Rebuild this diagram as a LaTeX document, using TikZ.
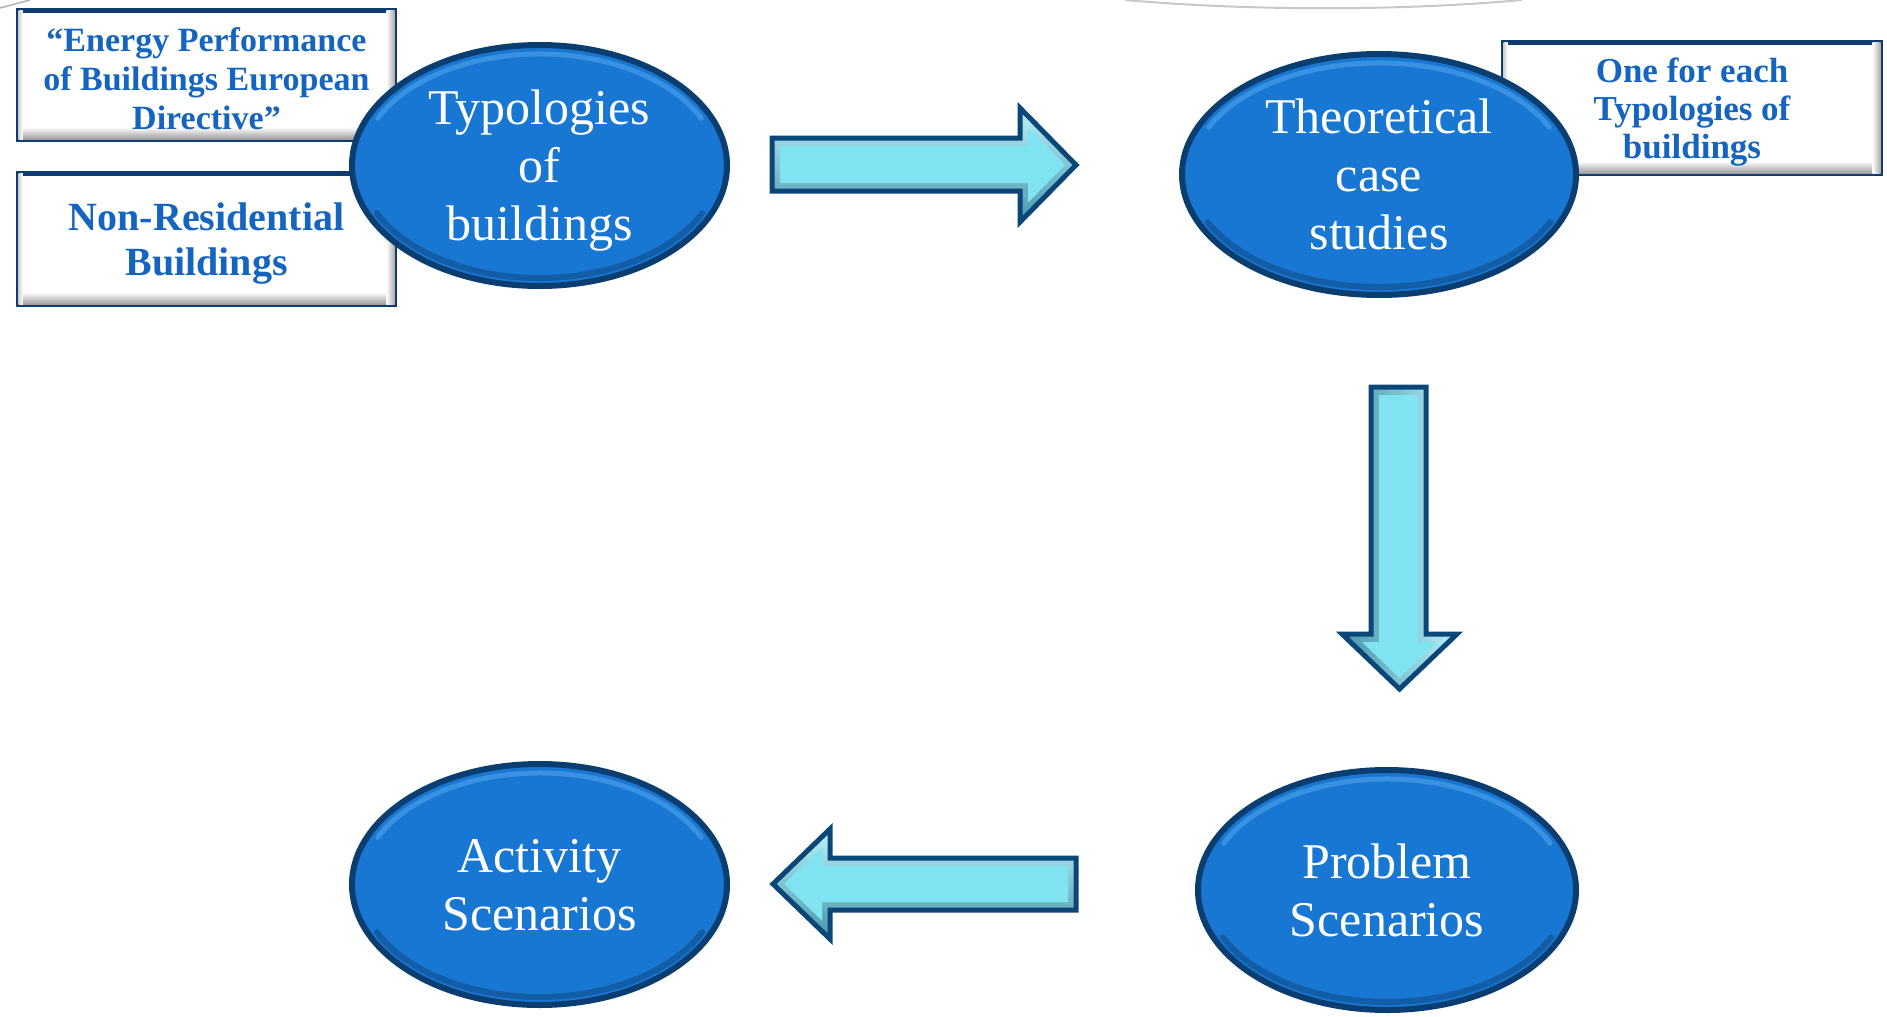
\documentclass[tikz,border=0pt]{standalone}
\usepackage{fontspec}
\setmainfont{Liberation Serif}
\usetikzlibrary{shapes.geometric}

\definecolor{rim}{HTML}{0B3E70}
\definecolor{disc}{HTML}{1877D3}
\definecolor{discHi}{HTML}{55A8F0}
\definecolor{boxline}{HTML}{0E3C6E}
\definecolor{boxtext}{HTML}{1565C0}
\definecolor{cyanA}{HTML}{7FE3F2}
\definecolor{cyanHi}{HTML}{C4F7FD}
\definecolor{cyanLo}{HTML}{3F8FA6}
\definecolor{arrowline}{HTML}{0B4679}

\tikzset{
  stage/.style={ellipse, draw=rim, line width=6pt, fill=disc, text=white,
    align=center, inner sep=0pt, text depth=0pt, font=\fontsize{50}{58}\selectfont},
  notebox/.style={rectangle, draw=boxline, line width=5.5pt, fill=white, inner sep=0pt},
  notetext/.style={text=boxtext, align=center, inner sep=0pt, text depth=0pt,
    font=\bfseries\fontsize{34}{39}\selectfont},
  arrowedge/.style={draw=arrowline, line width=5pt, line join=miter},
  arrowface/.style={fill=cyanA},
}

% bevel bands along the bottom, right and left inner edges of a note box
\newcommand{\boxbevel}[1]{%
  \shade[top color=white, bottom color=black!40]
    ([xshift=2.75pt,yshift=2.75pt]#1.south west) rectangle ([xshift=-2.75pt,yshift=15pt]#1.south east);
  \shade[left color=white, right color=black!32]
    ([xshift=-11pt,yshift=2.75pt]#1.south east) rectangle ([xshift=-2.75pt,yshift=-2.75pt]#1.north east);
  \shade[left color=black!18, right color=white]
    ([xshift=2.75pt,yshift=2.75pt]#1.south west) rectangle ([xshift=7pt,yshift=-2.75pt]#1.north west);
}

% light top rim and darker bottom rim inside a stage ellipse
\newcommand{\discbevel}[3]{%
  \draw[discHi, line width=5pt, opacity=.55, line cap=round, shift={(#1.center)}]
    (155:#2-9pt and #3-9pt) arc[start angle=155, end angle=25, x radius=#2-9pt, y radius=#3-9pt];
  \draw[rim, line width=6pt, opacity=.45, line cap=round, shift={(#1.center)}]
    (205:#2-8pt and #3-8pt) arc[start angle=205, end angle=335, x radius=#2-8pt, y radius=#3-8pt];
}

\begin{document}
\begin{tikzpicture}[x=1pt, y=-1pt]
\useasboundingbox (0,0) rectangle (1887,1017);

% faint strokes along the top edge
\draw[black!22, line width=2pt] (1125,0) .. controls (1250,11) and (1400,11) .. (1522,0);
\draw[black!30, line width=1.5pt] (0,8) -- (30,0);

% note boxes (behind the ellipses)
\node[notebox, minimum width=376pt, minimum height=129pt] (epbd) at (206.5,75) {};
\boxbevel{epbd}
\node[notetext] (epbdtext) at ([yshift=-4pt]epbd.center)
  {“Energy Performance\\of Buildings European\\Directive”};

\node[notebox, minimum width=376pt, minimum height=131pt] (nonres) at (206.5,239) {};
\boxbevel{nonres}
\node[notetext, font=\bfseries\fontsize{40}{45}\selectfont] (nonrestext) at (nonres.center)
  {Non-Residential\\Buildings};

\node[notebox, minimum width=377pt, minimum height=131pt] (each) at (1692,108) {};
\boxbevel{each}
\node[notetext, font=\bfseries\fontsize{35}{38}\selectfont] (eachtext) at (each.center)
  {One for each\\Typologies of\\buildings};

% stage ellipses
\node[stage, minimum width=375pt, minimum height=241pt] (typ) at (539.5,165.5)
  {Typologies\\of\\buildings};
\discbevel{typ}{187.5pt}{120.5pt}
\node[stage, minimum width=394pt, minimum height=241pt] (theo) at (1379,174.5)
  {Theoretical\\case\\studies};
\discbevel{theo}{197pt}{120.5pt}
\node[stage, minimum width=378pt, minimum height=240pt] (prob) at (1387,890)
  {Problem\\Scenarios};
\discbevel{prob}{189pt}{120pt}
\node[stage, minimum width=375pt, minimum height=241pt] (act) at (539.5,884.5)
  {Activity\\Scenarios};
\discbevel{act}{187.5pt}{120.5pt}

% block arrow: typologies -> theoretical case studies
\begin{scope}
  \clip (772,138) -- (1020,138) -- (1020,108) -- (1076,165) -- (1020,222) -- (1020,191) -- (772,191) -- cycle;
  \shade[top color=cyanHi, bottom color=cyanLo] (760,100) rectangle (1085,230);
  \fill[arrowface] (780,146) -- (1028,146) -- (1028,127.3) -- (1065,165) -- (1028,202.7) -- (1028,183) -- (780,183) -- cycle;
\end{scope}
\path[arrowedge] (772,138) -- (1020,138) -- (1020,108) -- (1076,165) -- (1020,222) -- (1020,191) -- (772,191) -- cycle;

% block arrow: theoretical case studies -> problem scenarios
\begin{scope}
  \clip (1371,387) -- (1426,387) -- (1426,634) -- (1457,634) -- (1399.5,689) -- (1342,634) -- (1371,634) -- cycle;
  \shade[left color=cyanLo, right color=cyanHi] (1335,380) rectangle (1465,695);
  \fill[arrowface] (1379,395) -- (1418,395) -- (1418,642) -- (1437,642) -- (1399.5,678) -- (1362,642) -- (1379,642) -- cycle;
\end{scope}
\path[arrowedge] (1371,387) -- (1426,387) -- (1426,634) -- (1457,634) -- (1399.5,689) -- (1342,634) -- (1371,634) -- cycle;

% block arrow: problem scenarios -> activity scenarios
\begin{scope}
  \clip (1076,858) -- (830,858) -- (830,829) -- (773,884) -- (830,939) -- (830,910) -- (1076,910) -- cycle;
  \shade[top color=cyanHi, bottom color=cyanLo] (765,822) rectangle (1085,946);
  \fill[arrowface] (1068,866) -- (822,866) -- (822,847.3) -- (784,884) -- (822,920.7) -- (822,902) -- (1068,902) -- cycle;
\end{scope}
\path[arrowedge] (1076,858) -- (830,858) -- (830,829) -- (773,884) -- (830,939) -- (830,910) -- (1076,910) -- cycle;

\end{tikzpicture}
\end{document}
